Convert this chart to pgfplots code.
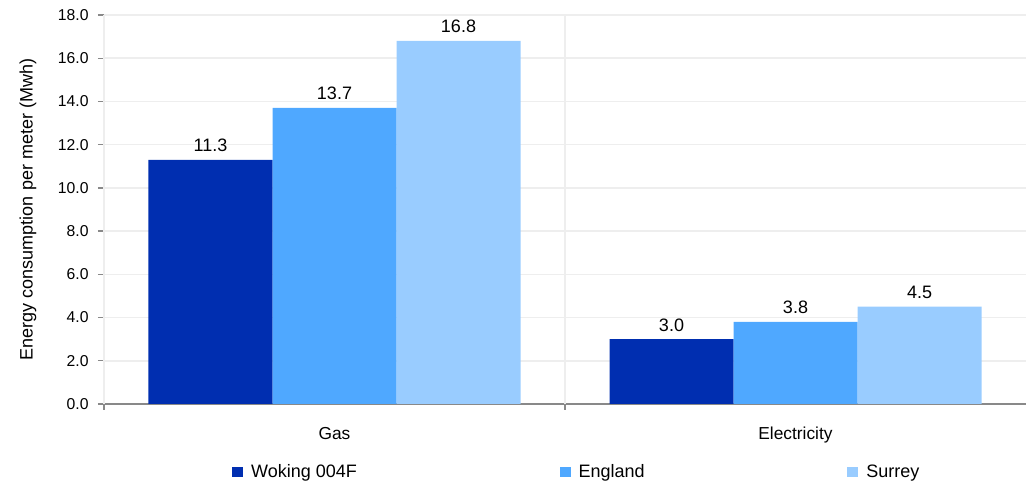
\documentclass[border=0pt]{standalone}
\usepackage{pgfplots}
\pgfplotsset{compat=1.18}
\usepackage{fontspec}
\setmainfont{Liberation Sans}
\definecolor{cWok}{RGB}{0,46,176}
\definecolor{cEng}{RGB}{79,168,255}
\definecolor{cSur}{RGB}{153,204,255}
\definecolor{axgray}{RGB}{137,137,137}
\definecolor{gridgray}{RGB}{238,238,238}
\pgfplotsset{sqlegend/.style={legend image code/.code={\path[##1,draw=none] (0pt,-4.1pt) rectangle (8.25pt,4.1pt);}}}
\begin{document}
\begin{tikzpicture}
\begin{axis}[
 name=ax,
 scale only axis,
 width=691.5pt, height=291.75pt,
 xmin=-0.5, xmax=1.5, ymin=0, ymax=18,
 ybar=0pt, bar width=93pt,
 axis x line*=bottom, axis y line*=left,
 axis line style={axgray, line width=1pt},
 xtick={0,1}, xticklabels={Gas,Electricity},
 xtick style={draw=none},
 extra x ticks={-0.5,0.5},
 extra x tick labels={},
 extra x tick style={grid=major, xtick style={draw=axgray, line width=1pt}, tick align=outside},
 ytick={0,2,...,18},
 ytick style={draw=axgray, line width=1pt},
 major tick length=4.5pt,
 tick align=outside,
 ymajorgrids,
 major grid style={gridgray, line width=1.2pt},
 /pgf/number format/assume math mode=true,
 yticklabel style={font=\fontsize{11.8}{13}\selectfont, xshift=-3.5pt, /pgf/number format/.cd, fixed, fixed zerofill, precision=1},
 xticklabel style={font=\fontsize{13}{14}\selectfont, yshift=-9.5pt},
 ylabel={Energy consumption per meter (Mwh)},
 ylabel style={at={(axis description cs:-0.0824,0.5)}, anchor=center, font=\fontsize{13.5}{15}\selectfont},
 nodes near coords={\pgfmathprintnumber[fixed,fixed zerofill,precision=1]{\pgfplotspointmeta}},
 every node near coord/.append style={font=\fontsize{13.5}{15}\selectfont, anchor=base, yshift=6pt, text=black},
 legend columns=3,
 legend style={at={(axis description cs:0.1388,-0.1748)}, anchor=west, draw=none, fill=none, inner sep=0pt,
   font=\fontsize{13.5}{15}\selectfont, nodes={inner sep=0pt},
   /tikz/every odd column/.append style={column sep=6pt},
   /tikz/every even column/.append style={column sep=152pt}},
]
\addplot[fill=cWok, draw=none, sqlegend] coordinates {(0,11.3) (1,3.0)};
\addplot[fill=cEng, draw=none, sqlegend] coordinates {(0,13.7) (1,3.8)};
\addplot[fill=cSur, draw=none, sqlegend] coordinates {(0,16.8) (1,4.5)};
\legend{Woking 004F, England, Surrey}
\end{axis}
\pgfresetboundingbox
\path ([xshift=-78pt,yshift=-59.25pt]ax.south west) rectangle ([yshift=11.25pt]ax.north east);
\end{tikzpicture}
\end{document}
